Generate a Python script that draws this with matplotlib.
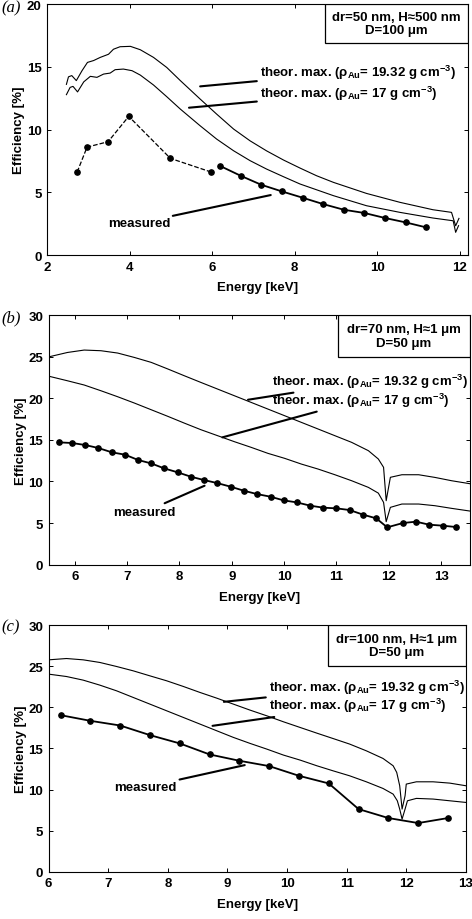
import numpy as np
import matplotlib
matplotlib.use("Agg")
import matplotlib.pyplot as plt
from matplotlib.patches import Rectangle

plt.rcParams['font.family'] = ['Liberation Sans', 'DejaVu Sans']
plt.rcParams['font.weight'] = 'bold'
plt.rcParams['mathtext.fontset'] = 'custom'
plt.rcParams['mathtext.rm'] = 'Liberation Sans:bold'
plt.rcParams['mathtext.bf'] = 'Liberation Sans:bold'
plt.rcParams['mathtext.it'] = 'Liberation Sans:bold'

# ---- panel (a): dr=50 nm
a_e_hi = [2.47, 2.52, 2.6, 2.71, 2.85, 2.98, 3.13, 3.29, 3.49, 3.61, 3.77, 4.02, 4.26, 4.58, 4.9,
          5.23, 5.71, 6.11, 6.52, 6.92, 7.32, 7.73, 8.13, 8.53, 8.94, 9.74, 10.55, 11.35, 11.8, 11.9, 11.98]
a_hi = [13.6, 14.2, 14.3, 13.9, 14.7, 15.35, 15.5, 15.75, 16.0, 16.4, 16.6, 16.63, 16.36, 15.75, 14.95,
        13.9, 12.43, 11.23, 10.04, 9.1, 8.3, 7.57, 6.93, 6.32, 5.79, 4.91, 4.2, 3.61, 3.4, 2.33, 2.92]
a_e_lo = [2.47, 2.56, 2.63, 2.74, 2.89, 3.05, 3.21, 3.37, 3.53, 3.65, 3.85, 4.06, 4.26, 4.58, 4.9,
          5.23, 5.71, 6.11, 6.52, 6.92, 7.32, 7.73, 8.13, 8.94, 9.74, 10.55, 11.35, 11.84, 11.9, 11.97]
a_lo = [12.78, 13.36, 13.44, 13.0, 13.8, 14.24, 14.16, 14.42, 14.5, 14.77, 14.82, 14.69, 14.34, 13.55, 12.62,
        11.63, 10.3, 9.24, 8.31, 7.52, 6.85, 6.24, 5.66, 4.73, 3.93, 3.4, 2.95, 2.73, 1.81, 2.34]
a_meas_e1 = [2.73, 2.97, 3.48, 3.98, 4.99, 5.98]
a_meas_1 = [6.61, 8.6, 9.03, 11.05, 7.7, 6.61]
a_meas_e2 = [6.18, 6.69, 7.19, 7.69, 8.19, 8.69, 9.19, 9.69, 10.19, 10.69, 11.19]
a_meas_2 = [7.12, 6.32, 5.6, 5.07, 4.57, 4.06, 3.61, 3.35, 2.95, 2.6, 2.2]

# ---- panel (b): dr=70 nm
b_e = [5.515, 5.86, 6.18, 6.5, 6.82, 7.14, 7.46, 7.78, 8.09, 8.41, 8.73, 9.05, 9.37, 9.69, 10.01,
       10.33, 10.65, 10.97, 11.29, 11.61, 11.8, 11.9, 11.95, 12.03, 12.25, 12.57, 12.88, 13.2, 13.59]
b_hi = [24.99, 25.5, 25.79, 25.71, 25.43, 24.9, 24.31, 23.51, 22.71, 21.9, 21.1, 20.3, 19.5, 18.7, 17.9,
        17.1, 16.3, 15.5, 14.7, 13.7, 12.7, 11.7, 7.69, 10.5, 10.81, 10.81, 10.49, 10.09, 9.69]
b_lo = [22.63, 22.1, 21.59, 20.9, 20.18, 19.42, 18.62, 17.82, 17.02, 16.22, 15.5, 14.78, 14.1, 13.38, 12.78,
        12.09, 11.49, 10.81, 10.09, 9.29, 8.6, 7.49, 5.17, 6.89, 7.29, 7.29, 7.09, 6.77, 6.41]
b_meas_e = [5.7, 5.95, 6.2, 6.45, 6.71, 6.96, 7.21, 7.46, 7.71, 7.97, 8.22, 8.47, 8.72, 8.98, 9.23, 9.48,
            9.74, 9.99, 10.24, 10.5, 10.75, 11.0, 11.25, 11.51, 11.76, 11.97, 12.27, 12.52, 12.77, 13.03, 13.28]
b_meas = [14.7, 14.62, 14.38, 14.02, 13.5, 13.22, 12.58, 12.17, 11.57, 11.09, 10.57, 10.17, 9.81, 9.37,
          8.89, 8.49, 8.17, 7.73, 7.49, 7.09, 6.85, 6.77, 6.57, 6.01, 5.57, 4.49, 5.01, 5.17, 4.81, 4.69, 4.53]

# ---- panel (c): dr=100 nm
c_e_hi = [6.0, 6.3, 6.58, 6.86, 7.14, 7.42, 7.7, 7.98, 8.26, 8.54, 8.82, 9.1, 9.38, 9.66, 9.94, 10.22,
          10.5, 10.77, 11.05, 11.33, 11.61, 11.78, 11.84, 11.89, 11.93, 11.98, 12.0, 12.17, 12.45, 12.73, 13.0]
c_hi = [25.78, 25.94, 25.78, 25.46, 24.97, 24.44, 23.83, 23.23, 22.54, 21.81, 21.12, 20.39, 19.66, 18.97,
        18.24, 17.55, 16.86, 16.21, 15.53, 14.71, 13.78, 12.89, 12.08, 10.46, 7.62, 9.24, 10.66, 10.94,
        10.94, 10.78, 10.46]
c_e_lo = [6.0, 6.3, 6.58, 6.86, 7.14, 7.42, 7.7, 7.98, 8.26, 8.54, 8.82, 9.1, 9.38, 9.66, 9.94, 10.22,
          10.5, 10.77, 11.05, 11.33, 11.61, 11.78, 11.85, 11.89, 11.93, 11.98, 12.02, 12.17, 12.45, 12.73, 13.0]
c_lo = [24.04, 23.75, 23.31, 22.7, 22.01, 21.2, 20.39, 19.58, 18.77, 17.96, 17.15, 16.34, 15.61, 14.92,
        14.19, 13.58, 12.89, 12.28, 11.67, 10.94, 10.13, 9.44, 8.63, 7.62, 6.4, 7.62, 8.63, 8.92, 8.84,
        8.63, 8.43]
c_meas_e = [6.2, 6.7, 7.2, 7.7, 8.2, 8.7, 9.2, 9.7, 10.2, 10.7, 11.2, 11.7, 12.2, 12.7]
c_meas = [19.05, 18.36, 17.79, 16.62, 15.61, 14.27, 13.5, 12.85, 11.67, 10.74, 7.62, 6.53, 5.92, 6.53]

lab_hi = r'theor. max. (ρ$_{\mathrm{Au}}$= 19.32 g cm$^{-3}$)'
lab_lo = r'theor. max. (ρ$_{\mathrm{Au}}$= 17 g cm$^{-3}$)'

fs = 9.5
fig = plt.figure(figsize=(4.72, 9.2), dpi=100)

# axes boxes (fig fraction)
ax_a = fig.add_axes([0.0996, 0.7217, 0.892, 0.2728])
ax_b = fig.add_axes([0.103, 0.3851, 0.8926, 0.2714])
ax_c = fig.add_axes([0.103, 0.0514, 0.884, 0.268])


def style(ax, xlim, ylim, xt, yt):
    ax.set_xlim(*xlim)
    ax.set_ylim(*ylim)
    ax.set_xticks(xt)
    ax.set_yticks(yt)
    ax.tick_params(direction='in', top=True, right=True, length=3, width=0.7,
                   labelsize=fs, pad=4)
    for lbl in ax.get_xticklabels() + ax.get_yticklabels():
        lbl.set_fontweight('bold')
    for s in ax.spines.values():
        s.set_linewidth(0.8)
    ax.set_xlabel('Energy [keV]', fontsize=fs, fontweight='bold', labelpad=6)
    ax.set_ylabel('Efficiency [%]', fontsize=fs, fontweight='bold', labelpad=1)


def infobox(ax, x0, y0, line1, line2):
    ax.add_patch(Rectangle((x0, y0), 1 - x0, 1 - y0, transform=ax.transAxes,
                           fill=True, facecolor='white', edgecolor='black', lw=0.9, zorder=5))
    ax.text((x0 + 1) / 2, (y0 + 1) / 2, line1 + '\n' + line2, transform=ax.transAxes,
            ha='center', va='center', fontsize=fs, fontweight='bold', zorder=6, linespacing=1.15)


def pointer(ax, txt, xy_text, xy_end, ha='left'):
    ax.annotate(txt, xy=xy_end, xytext=xy_text, ha=ha, va='center', fontsize=fs,
                fontweight='bold',
                arrowprops=dict(arrowstyle='-', lw=1.5, color='black', shrinkA=0, shrinkB=0))


# (a)
ax = ax_a
ax.plot(a_e_hi, a_hi, color='black', lw=0.8)
ax.plot(a_e_lo, a_lo, color='black', lw=0.8)
ax.plot(a_meas_e1, a_meas_1, '--', color='black', lw=0.9, marker='o', ms=3.8)
ax.plot(a_meas_e2, a_meas_2, '-', color='black', lw=1.3, marker='o', ms=3.8)
style(ax, (2, 12.2), (0, 20), [2, 4, 6, 8, 10, 12], [0, 5, 10, 15, 20])
infobox(ax, 0.660, 0.845, 'dr=50 nm, H\u2248500 nm', 'D=100 \u03bcm')
pointer(ax, lab_hi, (7.15, 14.6), (5.71, 13.44))
pointer(ax, lab_lo, (7.15, 12.9), (5.44, 11.74))
pointer(ax, 'measured', (4.98, 2.55), (7.42, 4.78), ha='right')

# (b)
ax = ax_b
ax.plot(b_e, b_hi, color='black', lw=0.8)
ax.plot(b_e, b_lo, color='black', lw=0.8)
ax.plot(b_meas_e, b_meas, '-', color='black', lw=1.3, marker='o', ms=3.8)
style(ax, (5.5, 13.55), (0, 30), [6, 7, 8, 9, 10, 11, 12, 13], [0, 5, 10, 15, 20, 25, 30])
infobox(ax, 0.687, 0.832, 'dr=70 nm, H\u22481 \u03bcm', 'D=50 \u03bcm')
pointer(ax, lab_hi, (9.76, 22.1), (9.31, 19.82))
pointer(ax, lab_lo, (9.76, 19.82), (8.82, 15.3))
pointer(ax, 'measured', (7.93, 6.33), (8.48, 9.49), ha='right')

# (c)
ax = ax_c
ax.plot(c_e_hi, c_hi, color='black', lw=0.8)
ax.plot(c_e_lo, c_lo, color='black', lw=0.8)
ax.plot(c_meas_e, c_meas, '-', color='black', lw=1.3, marker='o', ms=3.8)
style(ax, (6, 13), (0, 30), [6, 7, 8, 9, 10, 11, 12, 13], [0, 5, 10, 15, 20, 25, 30])
infobox(ax, 0.669, 0.834, 'dr=100 nm, H\u22481 \u03bcm', 'D=50 \u03bcm')
pointer(ax, lab_hi, (9.69, 22.5), (8.94, 20.67))
pointer(ax, lab_lo, (9.69, 20.27), (8.75, 17.75))
pointer(ax, 'measured', (8.15, 10.3), (9.29, 12.97), ha='right')

for lbl, y in (('(a)', 0.991), ('(b)', 0.654), ('(c)', 0.318)):
    fig.text(0.003, y, lbl, family='Liberation Serif', style='italic', fontweight='normal',
             fontsize=12, va='center', ha='left')

fig.savefig('out.png', dpi=100)
